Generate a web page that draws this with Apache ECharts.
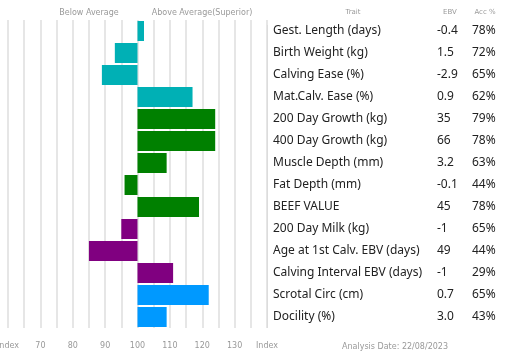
<!DOCTYPE html>
<html><head><meta charset="utf-8">
<script src="https://cdn.jsdelivr.net/npm/echarts@6/dist/echarts.min.js"></script>
<style>html,body{margin:0;padding:0;background:#fff}#c{width:522px;height:362px}</style>
</head><body><div id="c"></div>
<script>
const traits = ["Gest. Length (days)","Birth Weight (kg)","Calving Ease (%)","Mat.Calv. Ease (%)","200 Day Growth (kg)","400 Day Growth (kg)","Muscle Depth (mm)","Fat Depth (mm)","BEEF VALUE","200 Day Milk (kg)","Age at 1st Calv. EBV (days)","Calving Interval EBV (days)","Scrotal Circ (cm)","Docility (%)"];
const indexValues = [102,93,89,117,124,124,109,96,119,95,85,111,122,109];
const ebv = ["-0.4","1.5","-2.9","0.9","35","66","3.2","-0.1","45","-1","49","-1","0.7","3.0"];
const acc = ["78%","72%","65%","62%","79%","78%","63%","44%","78%","65%","44%","29%","65%","43%"];
const groups = ["calving","calving","calving","calving","growth","growth","growth","growth","growth","maternal","maternal","maternal","fertility","temperament"];
const groupColors = {calving:"#00B0B5",growth:"#008000",maternal:"#800080",fertility:"#0099FF",temperament:"#0099FF"};
const axisMin = 60, axisMax = 140, baseline = 100;
const tickLabels = {60:"Index",70:"70",80:"80",90:"90",100:"100",110:"110",120:"120",130:"130",140:"Index"};

const chart = echarts.init(document.getElementById('c'), null, {renderer:'canvas'});
const option = {
  animation:false,
  grid:{left:8, top:20, width:259, height:308, containLabel:false, outerBoundsMode:'none'},
  xAxis:{type:'value', min:axisMin-baseline, max:axisMax-baseline, interval:5,
    axisLine:{show:false}, axisTick:{show:false},
    splitLine:{show:true, lineStyle:{color:'#e6e6e6', width:2, type:'solid'}},
    axisLabel:{margin:14, color:'#999', fontFamily:'DejaVu Sans', fontSize:8,
      formatter:v=>{const k=Math.round(v+baseline); return tickLabels[k]!==undefined && k%10===0 ? tickLabels[k] : '';}}
  },
  yAxis:{type:'category', data:traits, inverse:true, show:false},
  series:[{type:'bar', barWidth:20,
    data:indexValues.map((v,i)=>({value:v-baseline, itemStyle:{color:groupColors[groups[i]]}}))}]
};
chart.setOption(option);

const g = [];
const small = {fontFamily:'DejaVu Sans', fontSize:8, fill:'#999'};
g.push({type:'text', x:89, y:13, style:Object.assign({text:'Below Average', align:'center', verticalAlign:'middle'}, small)});
g.push({type:'text', x:202, y:13, style:Object.assign({text:'Above Average(Superior)', align:'center', verticalAlign:'middle'}, small)});
g.push({type:'text', x:353, y:12, style:Object.assign({text:'Trait', align:'center', verticalAlign:'middle'}, small, {fontSize:7})});
g.push({type:'text', x:450, y:12, style:Object.assign({text:'EBV', align:'center', verticalAlign:'middle'}, small, {fontSize:7})});
g.push({type:'text', x:485, y:12, style:Object.assign({text:'Acc %', align:'center', verticalAlign:'middle'}, small, {fontSize:7})});
g.push({type:'text', x:395, y:347, style:Object.assign({text:'Analysis Date: 22/08/2023', align:'center', verticalAlign:'middle'}, small)});
g.push({type:'rect', shape:{x:267, y:25, width:1, height:303}, style:{fill:'#dcdcdc'}});
const big = {fontFamily:'Noto Sans', fontSize:12, fill:'#222', verticalAlign:'middle'};
traits.forEach((t,i)=>{
  const y = chart.convertToPixel({yAxisIndex:0}, i);
  g.push({type:'text', x:273, y:y, style:Object.assign({text:t, align:'left'}, big)});
  g.push({type:'text', x:437, y:y, style:Object.assign({text:ebv[i], align:'left'}, big)});
  g.push({type:'text', x:472, y:y, style:Object.assign({text:acc[i], align:'left'}, big)});
});
chart.setOption({graphic:g});
</script></body></html>
